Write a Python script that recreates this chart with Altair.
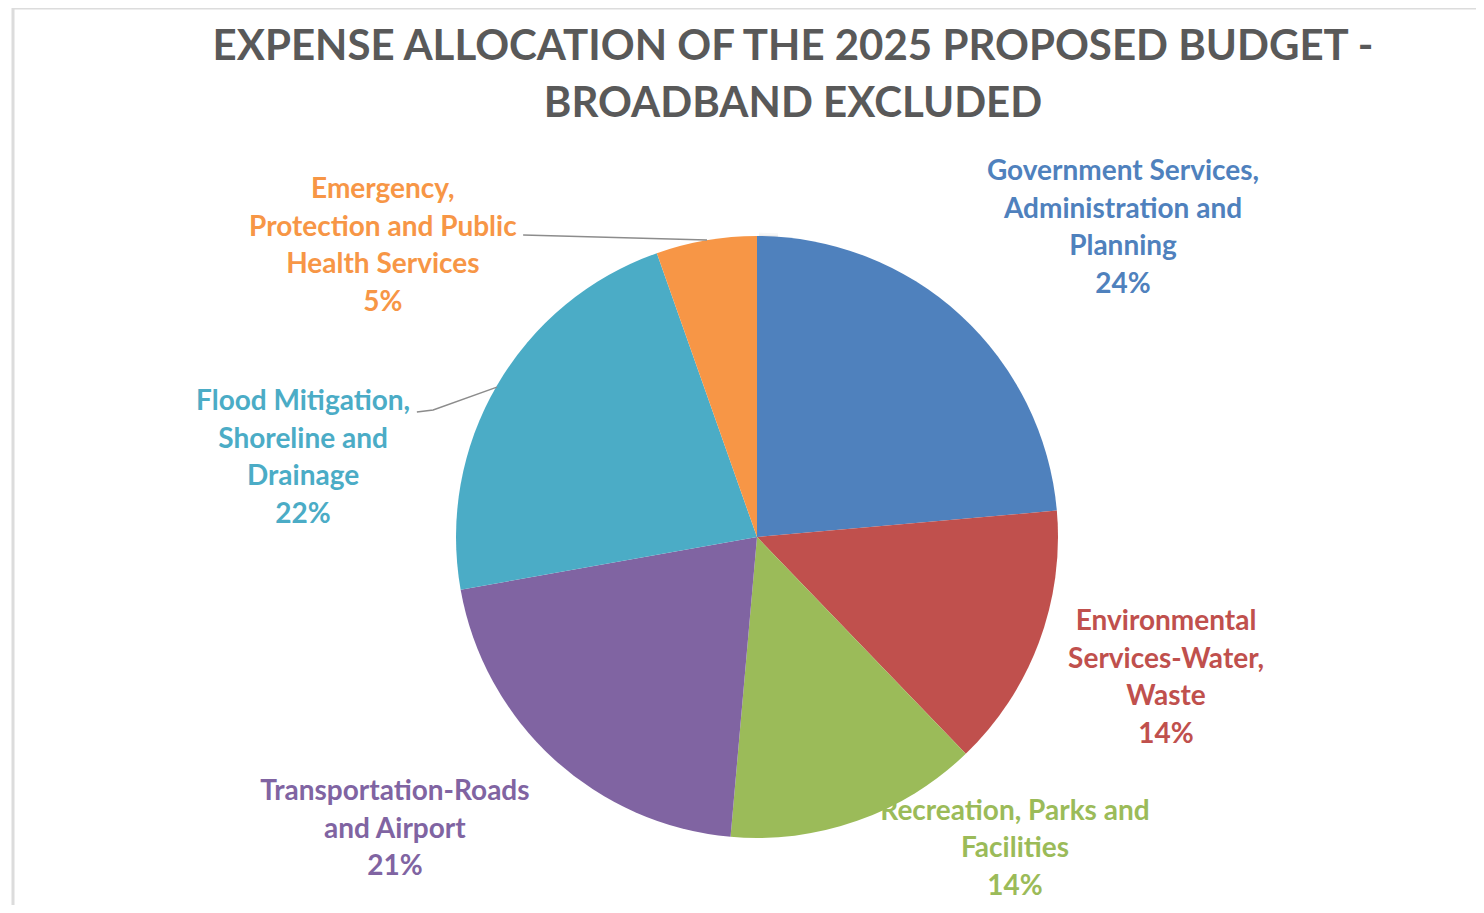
import altair as alt
import pandas as pd

# ---- data ----
categories = [
    "Government Services,\nAdministration and\nPlanning",
    "Environmental\nServices-Water,\nWaste",
    "Recreation, Parks and\nFacilities",
    "Transportation-Roads\nand Airport",
    "Flood Mitigation,\nShoreline and\nDrainage",
    "Emergency,\nProtection and Public\nHealth Services",
]
shares = [23.6, 14.2, 13.6, 20.8, 22.4, 5.4]
colors = ["#4F81BD", "#C0504D", "#9BBB59", "#8064A2", "#4BACC6", "#F79646"]
# label anchor (first text line), in pie-radius units relative to the pie centre
label_u = [1.216, 1.359, 0.857, -1.203, -1.508, -1.243]
label_v = [1.2126, -0.2824, -0.9136, -0.8472, 0.4485, 1.1528]
# leader lines (pie-radius units)
leader_id = ["emer", "emer", "flood", "flood", "flood"]
leader_u = [-0.777, -0.166, -1.130, -1.076, -0.864]
leader_v = [1.003, 0.987, 0.415, 0.422, 0.498]
leader_ord = [0, 1, 0, 1, 2]

title_lines = "EXPENSE ALLOCATION OF THE 2025 PROPOSED BUDGET -\nBROADBAND EXCLUDED"

# ---- layout (pixels) ----
W, H = 1463, 897          # frame / plot area
CX, CY, R = 744, 529, 301  # pie centre inside frame and radius

xdom = [-CX / R, (W - CX) / R]
ydom = [(CY - H) / R, CY / R]

names_plain = [c.replace("\n", " ") for c in categories]
df = pd.DataFrame({
    "idx": list(range(len(categories))),
    "name": names_plain,
    "share": shares,
    "label": [f"{c}\n{round(s)}%" for c, s in zip(categories, shares)],
    "u": label_u,
    "v": label_v,
})
lead = pd.DataFrame({"id": leader_id, "u": leader_u, "v": leader_v, "o": leader_ord})
title_df = pd.DataFrame({"t": [title_lines], "u": [(793 - 757) / R], "v": [(537 - 47) / R]})

xs = alt.Scale(domain=xdom, nice=False, zero=False)
ys = alt.Scale(domain=ydom, nice=False, zero=False)
noax = None

color_scale = alt.Scale(domain=names_plain, range=colors)

base = alt.Chart(df)
one = pd.DataFrame({"a": [1]})

shadows = []
for rr, op in [(R + 7, 0.03), (R + 5, 0.04), (R + 3, 0.06), (R + 1.5, 0.08)]:
    shadows.append(
        alt.Chart(one).mark_arc(radius=rr, color="#000000", opacity=op).encode(
            theta=alt.Theta("a:Q"),
            x=alt.datum(0.006, scale=xs, axis=noax),
            y=alt.datum(-0.012, scale=ys, axis=noax),
        )
    )

pie = base.mark_arc(radius=R).encode(
    theta=alt.Theta("share:Q", stack=True),
    order=alt.Order("idx:Q"),
    color=alt.Color("name:N", scale=color_scale, legend=None),
    x=alt.datum(0, scale=xs, axis=noax),
    y=alt.datum(0, scale=ys, axis=noax),
)

labels = base.mark_text(
    font="Lato", fontSize=28, fontWeight="bold", lineBreak="\n", lineHeight=37.5,
    align="center", baseline="middle",
).encode(
    x=alt.X("u:Q", scale=xs, axis=noax),
    y=alt.Y("v:Q", scale=ys, axis=noax),
    text="label:N",
    color=alt.Color("name:N", scale=color_scale, legend=None),
)

leaders = alt.Chart(lead).mark_line(color="#8c8c8c", strokeWidth=1.5).encode(
    x=alt.X("u:Q", scale=xs, axis=noax),
    y=alt.Y("v:Q", scale=ys, axis=noax),
    detail="id:N",
    order="o:Q",
)

title = alt.Chart(title_df).mark_text(
    font="Lato", fontSize=42, fontWeight="bold", lineBreak="\n", lineHeight=57,
    align="center", baseline="middle", color="#595959",
).encode(
    x=alt.X("u:Q", scale=xs, axis=noax),
    y=alt.Y("v:Q", scale=ys, axis=noax),
    text="t:N",
)

# chart frame: only its left and top edges fall inside the picture
frame_left = alt.Chart(one).mark_rule(color="#dcdcdc", strokeWidth=3).encode(
    x=alt.value(0), y=alt.value(0), y2=alt.value(H)
)
frame_top = alt.Chart(one).mark_rule(color="#dcdcdc", strokeWidth=3).encode(
    x=alt.value(0), x2=alt.value(W), y=alt.value(0)
)

chart = alt.layer(frame_left, frame_top, *shadows, pie, leaders, labels, title).properties(
    width=W, height=H,
    padding={"left": 5, "top": 0, "right": 0, "bottom": 0},
    background="white",
    autosize=alt.AutoSizeParams(type="none"),
).configure_view(stroke=None)

chart.save("out.html", embed_options={"renderer": "svg", "actions": False})
